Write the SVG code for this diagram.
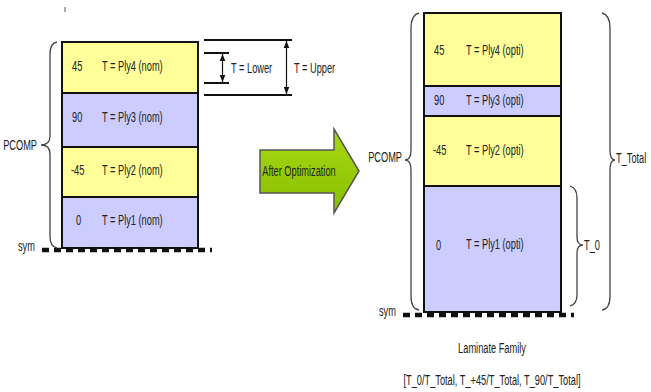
<svg xmlns="http://www.w3.org/2000/svg" width="651" height="392" viewBox="0 0 651 392">
<style>
text{font-family:"Liberation Sans",Arial,sans-serif;font-size:14px;fill:#222;dominant-baseline:central;transform-box:fill-box;transform-origin:left center;transform:scaleX(.66)}
text.m{transform-origin:center center}
text.e{transform-origin:right center}
.y{fill:#ffff99;stroke:#111;stroke-width:2}
.b{fill:#ccccff;stroke:#111;stroke-width:2}
.br{fill:none;stroke:#444;stroke-width:1.3}
.ln{stroke:#111;stroke-width:2}
.sym{stroke:#111;stroke-width:4.5;stroke-dasharray:7 5}
.dim{stroke:#111;stroke-width:1.2;fill:none}
</style>
<defs>
<marker id="ah" viewBox="0 0 10 10" refX="10" refY="5" markerWidth="6" markerHeight="6" orient="auto-start-reverse"><path d="M0,1 L10,5 L0,9 z" fill="#111"/></marker>
<linearGradient id="g" x1="0" y1="0" x2="0" y2="1"><stop offset="0" stop-color="#a8d814"/><stop offset="1" stop-color="#88bf00"/></linearGradient>
</defs>
<line x1="65" y1="7" x2="65" y2="12" stroke="#555" stroke-width="1"/>
<g id="left-stack">
<rect id="l-ply4" class="y" x="62" y="42" width="136" height="51"/>
<rect id="l-ply3" class="b" x="62" y="93" width="136" height="54"/>
<rect id="l-ply2" class="y" x="62" y="147" width="136" height="50"/>
<rect id="l-ply1" class="b" x="62" y="197" width="136" height="51"/>
<text x="72" y="66">45</text><text x="102" y="66">T = Ply4 (nom)</text>
<text x="72" y="117">90</text><text x="102" y="117">T = Ply3 (nom)</text>
<text x="71" y="170">-45</text><text x="102" y="170">T = Ply2 (nom)</text>
<text x="76" y="220">0</text><text x="102" y="220">T = Ply1 (nom)</text>
<line class="sym" x1="42" y1="250" x2="212" y2="250"/>
<text x="18" y="246">sym</text>
<path class="br" d="M57,42 Q50,43 50,54 L50,136 Q50,145 41,145 Q50,145 50,154 L50,236 Q50,247 57,248"/>
<text class="e" x="37" y="145" text-anchor="end">PCOMP</text>
</g>
<g id="dimensions">
<line class="ln" x1="204" y1="40" x2="292" y2="40"/>
<line class="ln" x1="204" y1="95" x2="292" y2="95"/>
<line class="ln" x1="204" y1="53" x2="229" y2="53"/>
<line class="ln" x1="204" y1="83" x2="229" y2="83"/>
<line class="dim" x1="222.5" y1="54" x2="222.5" y2="82" marker-start="url(#ah)" marker-end="url(#ah)"/>
<line class="dim" x1="286.5" y1="41" x2="286.5" y2="94" marker-start="url(#ah)" marker-end="url(#ah)"/>
<text x="231" y="68">T = Lower</text>
<text x="294" y="68">T = Upper</text>
</g>
<g id="arrow">
<path d="M260,150 L334,150 L334,129 L359,171 L334,213 L334,193 L260,193 z" fill="url(#g)" stroke="#555" stroke-width="1.5"/>
<text class="m" x="299" y="171" text-anchor="middle" fill="#111">After Optimization</text>
</g>
<g id="right-stack">
<rect id="r-ply4" class="y" x="424" y="13" width="137" height="73"/>
<rect id="r-ply3" class="b" x="424" y="86" width="137" height="30"/>
<rect id="r-ply2" class="y" x="424" y="116" width="137" height="70"/>
<rect id="r-ply1" class="b" x="424" y="186" width="137" height="126"/>
<text x="434" y="50">45</text><text x="466" y="50">T = Ply4 (opti)</text>
<text x="434" y="100">90</text><text x="466" y="100">T = Ply3 (opti)</text>
<text x="433" y="150">-45</text><text x="466" y="150">T = Ply2 (opti)</text>
<text x="436" y="245">0</text><text x="466" y="244">T = Ply1 (opti)</text>
<line class="sym" x1="403" y1="315" x2="574" y2="315"/>
<text x="379" y="311">sym</text>
<path class="br" d="M419,13 Q411,15 411,28 L411,150 Q411,160 405,160 Q411,160 411,170 L411,296 Q411,309 419,310"/>
<text class="e" x="402" y="157" text-anchor="end">PCOMP</text>
<path class="br" d="M602,13 Q610,15 610,28 L610,150 Q610,160 615,160 Q610,160 610,170 L610,296 Q610,309 602,310"/>
<text x="616" y="158">T_Total</text>
<path class="br" d="M570,186 Q577,188 577,198 L577,237 Q577,245 583,245 Q577,245 577,253 L577,295 Q577,304 570,306"/>
<text x="584" y="245">T_0</text>
<text class="m" x="492" y="348" text-anchor="middle">Laminate Family</text>
<text class="m" x="492" y="380" text-anchor="middle">[T_0/T_Total, T_+45/T_Total, T_90/T_Total]</text>
</g>
</svg>
